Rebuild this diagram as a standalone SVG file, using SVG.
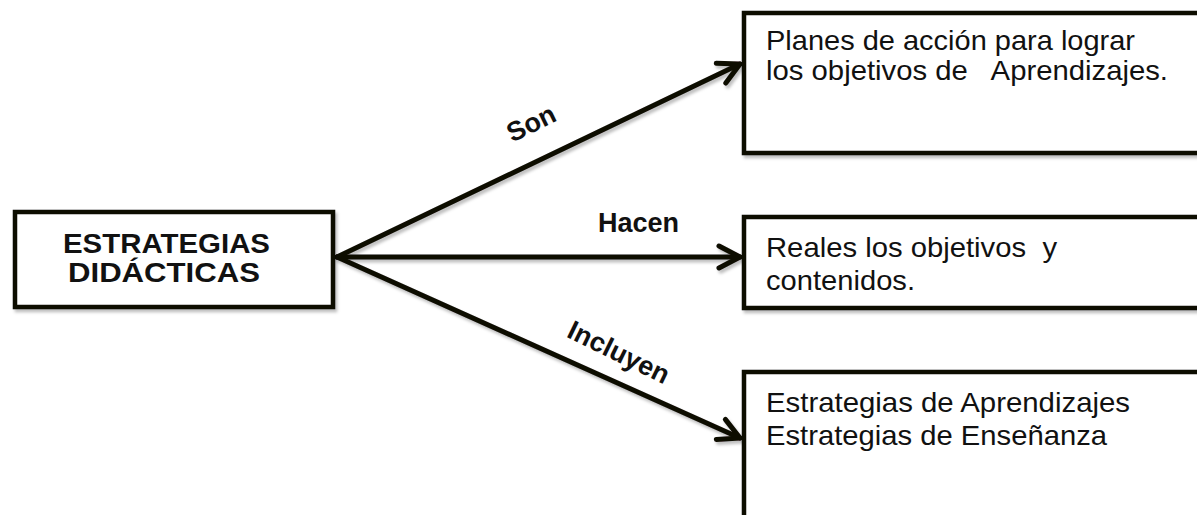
<svg xmlns="http://www.w3.org/2000/svg" width="1197" height="515" viewBox="0 0 1197 515">
  <defs>
    <filter id="sh" x="-10%" y="-10%" width="120%" height="130%">
      <feDropShadow dx="2" dy="3" stdDeviation="1.8" flood-color="#000" flood-opacity="0.25"/>
    </filter>
    <marker id="arrow" markerUnits="userSpaceOnUse" markerWidth="40" markerHeight="40" refX="0" refY="0" orient="auto" overflow="visible">
      <path d="M -21 -11 L 0 0 L -21 11" fill="none" stroke="#0d0a06" stroke-width="5" stroke-linecap="round" stroke-linejoin="round"/>
    </marker>
  </defs>
  <style>
    .box { fill: #fff; stroke: #0d0a06; stroke-width: 4.5; }
    .conn { stroke: #0d0a06; stroke-width: 5; fill: none; stroke-linecap: round; }
    .t { font-family: "Liberation Sans", Arial, sans-serif; font-size: 28px; fill: #111; white-space: pre; }
    .b { font-family: "Liberation Sans", Arial, sans-serif; font-size: 28px; font-weight: bold; fill: #111; }
    .lbl { font-family: "Liberation Sans", Arial, sans-serif; font-size: 27px; font-weight: bold; fill: #111; }
  </style>
  <rect width="1197" height="515" fill="#fff"/>

  <g id="connectors" filter="url(#sh)">
    <line class="conn" x1="337" y1="257" x2="740" y2="64" marker-end="url(#arrow)"/>
    <line class="conn" x1="337" y1="257" x2="740" y2="257" marker-end="url(#arrow)"/>
    <line class="conn" x1="337" y1="257" x2="740" y2="438" marker-end="url(#arrow)"/>
  </g>

  <g id="labels">
    <g transform="translate(531,123) rotate(-26)"><text class="lbl" x="0" y="9.5" text-anchor="middle">Son</text></g>
    <text class="lbl" x="598" y="232">Hacen</text>
    <g transform="translate(619,352) rotate(26)"><text class="lbl" x="0" y="9.5" text-anchor="middle">Incluyen</text></g>
  </g>

  <g id="node-estrategias">
    <rect class="box" x="15" y="212" width="318" height="95" filter="url(#sh)"/>
    <text class="b" x="63" y="253" textLength="207" lengthAdjust="spacingAndGlyphs">ESTRATEGIAS</text>
    <text class="b" x="68" y="282" textLength="192" lengthAdjust="spacingAndGlyphs">DIDÁCTICAS</text>
  </g>

  <g id="node-planes">
    <rect class="box" x="744" y="13" width="480" height="140" filter="url(#sh)"/>
    <text class="t" x="766" y="50" textLength="369" lengthAdjust="spacingAndGlyphs">Planes de acción para lograr</text>
    <text class="t" x="766" y="80" textLength="402" lengthAdjust="spacingAndGlyphs">los objetivos de   Aprendizajes.</text>
  </g>

  <g id="node-reales">
    <rect class="box" x="744" y="217" width="480" height="91" filter="url(#sh)"/>
    <text class="t" x="766" y="257" textLength="291" lengthAdjust="spacingAndGlyphs">Reales los objetivos  y</text>
    <text class="t" x="766" y="290" textLength="149" lengthAdjust="spacingAndGlyphs">contenidos.</text>
  </g>

  <g id="node-incluyen">
    <rect class="box" x="744" y="372" width="480" height="180" filter="url(#sh)"/>
    <text class="t" x="766" y="412" textLength="364" lengthAdjust="spacingAndGlyphs">Estrategias de Aprendizajes</text>
    <text class="t" x="766" y="445" textLength="341" lengthAdjust="spacingAndGlyphs">Estrategias de Enseñanza</text>
  </g>
</svg>
